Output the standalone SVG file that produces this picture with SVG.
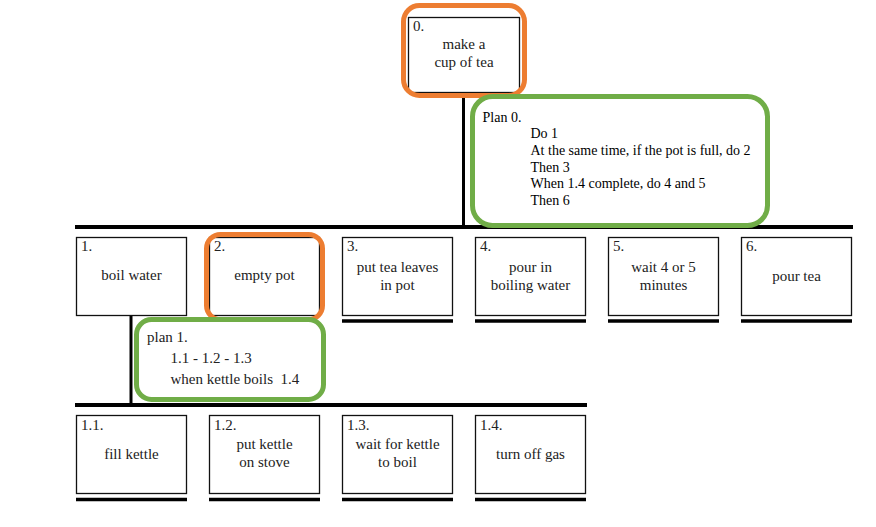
<svg xmlns="http://www.w3.org/2000/svg" width="876" height="527" viewBox="0 0 876 527">
<style>
.box{fill:#fff;stroke:#111;stroke-width:1.3}
.bar{stroke:#000;stroke-width:4;fill:none}
.ubar{stroke:#000;stroke-width:3.5;fill:none}
.t{font-family:"Liberation Serif","Times New Roman",serif;font-size:15px;fill:#222}
.c{text-anchor:middle}
.p{font-family:"Liberation Serif","Times New Roman",serif;font-size:14px;fill:#000}
.or{fill:none;stroke:#ED7D31;stroke-width:5}
.gr{fill:none;stroke:#70AD47;stroke-width:5}
</style>
<rect width="876" height="527" fill="#fff"/>
<g id="connectors">
<line class="bar" x1="463.5" y1="93" x2="463.5" y2="227" style="stroke-width:3"/>
<line class="bar" x1="75" y1="227" x2="853" y2="227"/>
<line class="bar" x1="131" y1="316" x2="131" y2="405" style="stroke-width:3"/>
<line class="bar" x1="75" y1="405" x2="587" y2="405"/>
</g>
<g id="n0">
<rect class="box" x="408.5" y="17.5" width="111" height="75"/>
<text class="t" x="413" y="31">0.</text>
<text class="t c" x="464" y="49">make a</text>
<text class="t c" x="464" y="67">cup of tea</text>
<rect class="or" x="403.5" y="5.5" width="121" height="90" rx="16"/>
</g>
<g id="plan0">
<rect class="gr" x="472.5" y="96.5" width="295" height="129" rx="20"/>
<text class="p" x="482.5" y="122">Plan 0.</text>
<text class="p" x="530.5" y="138">Do 1</text>
<text class="p" x="530.5" y="154.5">At the same time, if the pot is full, do 2</text>
<text class="p" x="530.5" y="171.5">Then 3</text>
<text class="p" x="530.5" y="188">When 1.4 complete, do 4 and 5</text>
<text class="p" x="530.5" y="204.5">Then 6</text>
</g>
<g id="n1">
<rect class="box" x="76.5" y="237.5" width="110" height="78"/>
<text class="t" x="81" y="251">1.</text>
<text class="t c" x="131.5" y="280">boil water</text>
</g>
<g id="n2">
<rect class="box" x="209.5" y="237.5" width="110" height="78"/>
<text class="t" x="214" y="251">2.</text>
<text class="t c" x="264.5" y="280">empty pot</text>
<rect class="or" x="206.5" y="234.5" width="116" height="85" rx="14"/>
</g>
<g id="n3">
<rect class="box" x="342.5" y="237.5" width="110" height="78"/>
<line class="ubar" x1="342" y1="321" x2="453" y2="321"/>
<text class="t" x="347" y="251">3.</text>
<text class="t c" x="397.5" y="272">put tea leaves</text>
<text class="t c" x="397.5" y="290">in pot</text>
</g>
<g id="n4">
<rect class="box" x="475.5" y="237.5" width="110" height="78"/>
<line class="ubar" x1="475" y1="321" x2="586" y2="321"/>
<text class="t" x="480" y="251">4.</text>
<text class="t c" x="530.5" y="272">pour in</text>
<text class="t c" x="530.5" y="290">boiling water</text>
</g>
<g id="n5">
<rect class="box" x="608.5" y="237.5" width="110" height="78"/>
<line class="ubar" x1="608" y1="321" x2="719" y2="321"/>
<text class="t" x="613" y="251">5.</text>
<text class="t c" x="663.5" y="272">wait 4 or 5</text>
<text class="t c" x="663.5" y="290">minutes</text>
</g>
<g id="n6">
<rect class="box" x="741.5" y="237.5" width="110" height="78"/>
<line class="ubar" x1="741" y1="321" x2="852" y2="321"/>
<text class="t" x="746" y="251">6.</text>
<text class="t c" x="796.5" y="281">pour tea</text>
</g>
<g id="plan1">
<rect class="gr" x="136.5" y="319.5" width="187" height="80" rx="15"/>
<text class="t" x="147" y="342">plan 1.</text>
<text class="t" x="170.5" y="363">1.1 - 1.2 - 1.3</text>
<text class="t" x="170.5" y="384" xml:space="preserve">when kettle boils  1.4</text>
</g>
<g id="n1_1">
<rect class="box" x="76.5" y="415.5" width="110" height="78"/>
<line class="ubar" x1="76" y1="499.5" x2="187" y2="499.5"/>
<text class="t" x="81" y="430">1.1.</text>
<text class="t c" x="131.5" y="459">fill kettle</text>
</g>
<g id="n1_2">
<rect class="box" x="209.5" y="415.5" width="110" height="78"/>
<line class="ubar" x1="209" y1="499.5" x2="320" y2="499.5"/>
<text class="t" x="214" y="430">1.2.</text>
<text class="t c" x="264.5" y="449">put kettle</text>
<text class="t c" x="264.5" y="467">on stove</text>
</g>
<g id="n1_3">
<rect class="box" x="342.5" y="415.5" width="110" height="78"/>
<line class="ubar" x1="342" y1="499.5" x2="453" y2="499.5"/>
<text class="t" x="347" y="430">1.3.</text>
<text class="t c" x="397.5" y="449">wait for kettle</text>
<text class="t c" x="397.5" y="467">to boil</text>
</g>
<g id="n1_4">
<rect class="box" x="475.5" y="415.5" width="110" height="78"/>
<line class="ubar" x1="475" y1="499.5" x2="586" y2="499.5"/>
<text class="t" x="480" y="430">1.4.</text>
<text class="t c" x="530.5" y="459">turn off gas</text>
</g>
</svg>
